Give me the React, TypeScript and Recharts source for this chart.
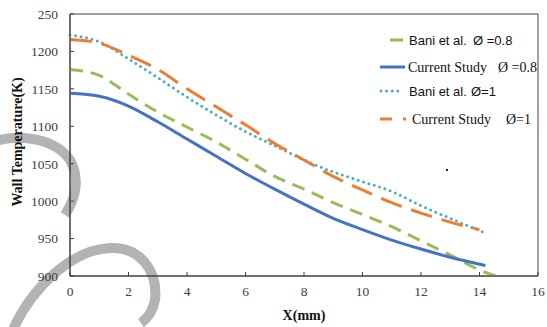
import React from 'react';
import { LineChart, Line, XAxis, YAxis, ReferenceArea } from 'recharts';

// X positions (mm) and wall temperatures (K)
const baniX08 = [0, 1, 2, 3, 4, 5, 6, 7, 8, 9, 10, 11, 12, 13, 14, 14.8];
const baniT08 = [1176, 1168, 1143, 1119, 1099, 1079, 1056, 1033, 1016, 998, 982, 966, 947, 928, 908, 897];

const currX08 = [0, 1, 2, 3, 4, 5, 6, 7, 8, 9, 10, 11, 12, 13, 14.2];
const currT08 = [1144, 1140, 1127, 1106, 1083, 1060, 1037, 1016, 996, 977, 962, 948, 936, 925, 914];

const baniX1 = [0, 1, 2, 3, 4, 5, 6, 7, 8, 9, 10, 11, 12, 13, 14.1];
const baniT1 = [1222, 1213, 1190, 1165, 1139, 1115, 1093, 1074, 1055, 1039, 1026, 1013, 994, 977, 959];

const currX1 = [0, 1, 2, 3, 4, 5, 6, 7, 8, 9, 10, 11, 12, 13, 14];
const currT1 = [1216, 1211, 1195, 1176, 1150, 1126, 1102, 1077, 1055, 1033, 1015, 998, 984, 972, 962];

const xTicks = [0, 2, 4, 6, 8, 10, 12, 14, 16];
const yTicks = [900, 950, 1000, 1050, 1100, 1150, 1200, 1250];
const yTickLabels = ['900', '950', '1000', '1050', '1100', '1150', '1200', '250'];

const toPoints = (xs: number[], ts: number[]) => xs.map((x, i) => ({ x, t: ts[i] }));

const SERIF = '"Liberation Serif", "Times New Roman", serif';
const SANS = '"Liberation Sans", Arial, sans-serif';

const GREEN = '#9BBB59';
const BLUE = '#4472C4';
const AQUA = '#4BACC6';
const ORANGE = '#ED7D31';
const AXIS = '#404040';

const tickStyle = { fill: '#404040', fontSize: 13.5, fontFamily: SERIF };

const App: React.FC = () => {
  return (
    <div style={{ position: 'absolute', left: 0, top: 0, width: 547, height: 327, background: '#fff' }}>
      {/* grey watermark arcs and stray dot, behind the chart */}
      <svg width={547} height={327} style={{ position: 'absolute', left: 0, top: 0, pointerEvents: 'none' }}>
        <path d="M -5 141 C 20 134, 55 138, 70 160 C 80 178, 76 198, 65 215" fill="none" stroke="#b3b3b3" strokeWidth={10} />
        <path d="M 12 332 C 30 290, 70 250, 110 248 C 140 247, 158 270, 155 300 C 153 310, 148 318, 141 323"
          fill="none" stroke="#b3b3b3" strokeWidth={10} />
        <rect x={446} y={169} width={2} height={2} fill="#222" />
      </svg>

      <div style={{ position: 'absolute', left: 0, top: 0 }}>
        <LineChart width={547} height={327} margin={{ top: 14, right: 9, bottom: 0, left: 0 }}>
          <XAxis
            type="number"
            dataKey="x"
            domain={[0, 16]}
            ticks={xTicks}
            height={51}
            tickSize={-4}
            tickMargin={14}
            tick={tickStyle}
            axisLine={{ stroke: AXIS }}
            tickLine={{ stroke: AXIS }}
          />
          <YAxis
            type="number"
            domain={[900, 1250]}
            ticks={yTicks}
            allowDataOverflow
            width={70}
            tickSize={-4}
            tickMargin={16}
            tick={tickStyle}
            axisLine={{ stroke: AXIS }}
            tickLine={{ stroke: AXIS }}
            tickFormatter={(v: number) => yTickLabels[yTicks.indexOf(v)]}
          />
          <ReferenceArea x1={0} x2={16} y1={900} y2={1250} fill="none" stroke={AXIS} strokeWidth={1} />

          <Line data={toPoints(baniX08, baniT08)} dataKey="t" type="monotone" stroke={GREEN} strokeWidth={3}
            strokeDasharray="13 8" dot={false} isAnimationActive={false} />
          <Line data={toPoints(currX08, currT08)} dataKey="t" type="monotone" stroke={BLUE} strokeWidth={3}
            dot={false} isAnimationActive={false} />
          <Line data={toPoints(baniX1, baniT1)} dataKey="t" type="monotone" stroke={AQUA} strokeWidth={3}
            strokeDasharray="0 5.6" strokeLinecap="round" dot={false} isAnimationActive={false} />
          <Line data={toPoints(currX1, currT1)} dataKey="t" type="monotone" stroke={ORANGE} strokeWidth={3}
            strokeDasharray="22 10" dot={false} isAnimationActive={false} />

          <text x={17.5} y={142} transform="rotate(-90 17.5 142)" textAnchor="middle" dominantBaseline="central"
            fontFamily={SERIF} fontWeight="bold" fontSize={14} fill="#111">Wall Temperature(K)</text>
          <text x={304} y={315} textAnchor="middle" dominantBaseline="central"
            fontFamily={SERIF} fontWeight="bold" fontSize={14} fill="#111">X(mm)</text>

          {/* legend */}
          <g>
            <line x1={390} x2={403} y1={40} y2={40} stroke={GREEN} strokeWidth={3} />
            <text x={409} y={40} dominantBaseline="central" fontFamily={SANS} fontSize={13} fill="#111">Bani et al.</text>
            <text x={473} y={40} dominantBaseline="central" fontFamily={SANS} fontSize={13} fill="#111">Ø =0.8</text>

            <line x1={380} x2={405} y1={67} y2={67} stroke={BLUE} strokeWidth={3} />
            <text x={408} y={67} dominantBaseline="central" fontFamily={SERIF} fontSize={14} fill="#111">Current Study</text>
            <text x={498} y={67} dominantBaseline="central" fontFamily={SERIF} fontSize={14} fill="#111">Ø =0.8</text>

            <line x1={381} x2={402} y1={91} y2={91} stroke={AQUA} strokeWidth={3} strokeDasharray="0 5.6" strokeLinecap="round" />
            <text x={409} y={91} dominantBaseline="central" fontFamily={SANS} fontSize={13} fill="#111">Bani et al.</text>
            <text x={471} y={91} dominantBaseline="central" fontFamily={SANS} fontSize={13} fill="#111">Ø=1</text>

            <line x1={380} x2={392} y1={119} y2={119} stroke={ORANGE} strokeWidth={3} />
            <line x1={403} x2={406} y1={119} y2={119} stroke={ORANGE} strokeWidth={3} />
            <text x={412} y={119} dominantBaseline="central" fontFamily={SERIF} fontSize={14} fill="#111">Current Study</text>
            <text x={506} y={119} dominantBaseline="central" fontFamily={SERIF} fontSize={14} fill="#111">Ø=1</text>
          </g>
        </LineChart>
      </div>
    </div>
  );
};

export default App;
